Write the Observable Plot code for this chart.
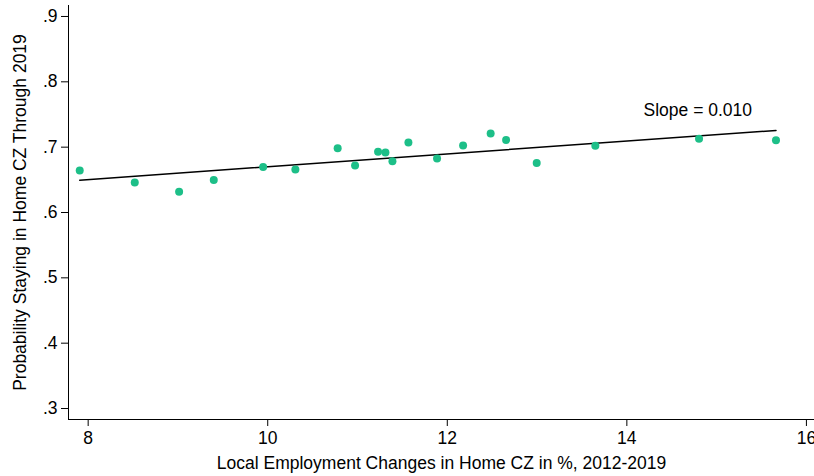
<!DOCTYPE html>
<html>
<head>
<meta charset="utf-8">
<script src="https://cdn.jsdelivr.net/npm/d3@7"></script>
<script src="https://cdn.jsdelivr.net/npm/@observablehq/plot@0.6"></script>
<style>
  html, body { margin: 0; padding: 0; background: #fff; }
  #chart svg { display: block; }
</style>
</head>
<body>
<div id="chart"></div>
<script>
// Binned scatter: local employment change (%) vs probability of staying in home CZ
const empChange = [7.906, 8.519, 9.013, 9.399, 9.949, 10.308, 10.779, 10.973, 11.229, 11.311,
                   11.389, 11.567, 11.886, 12.176, 12.483, 12.655, 12.996, 13.649, 14.804, 15.661];
const probStay  = [0.6643, 0.6459, 0.6316, 0.6499, 0.6698, 0.6658, 0.6984, 0.6720, 0.6928, 0.6919,
                   0.6785, 0.7072, 0.6827, 0.7026, 0.7209, 0.7111, 0.6759, 0.7020, 0.7127, 0.7107];

// Fitted line
const fitIntercept = 0.57185;
const fitSlope = 0.00982;

const xTicks = [8, 10, 12, 14, 16];
const yTicks = [0.3, 0.4, 0.5, 0.6, 0.7, 0.8, 0.9];
const xDomain = [7.781, 16.09];
const yDomain = [0.2832, 0.9168];

const xLabel = "Local Employment Changes in Home CZ in %, 2012-2019";
const yLabel = "Probability Staying in Home CZ Through 2019";
const slopeLabel = ["Slope = 0.010"];
const slopeLabelX = [14.79];
const slopeLabelY = [0.757];

const points = empChange.map((x, i) => ({x, y: probStay[i]}));
const xExt = d3.extent(empChange);
const fitLine = xExt.map(x => ({x, y: fitIntercept + fitSlope * x}));
const annot = slopeLabel.map((t, i) => ({t, x: slopeLabelX[i], y: slopeLabelY[i]}));

const FS = 17.5;
const green = "#1dbf88";

const chart = Plot.plot({
  width: 814,
  height: 476,
  marginLeft: 68,
  marginRight: 0,
  marginTop: 5,
  marginBottom: 57,
  style: {fontFamily: "'Liberation Sans', Helvetica, Arial, sans-serif", fontSize: FS + "px", color: "#000", background: "#fff"},
  x: {domain: xDomain},
  y: {domain: yDomain},
  marks: [
    Plot.ruleX([xDomain[0]], {stroke: "#000", strokeWidth: 1}),
    Plot.ruleY([yDomain[0]], {stroke: "#000", strokeWidth: 1}),
    Plot.axisX({ticks: xTicks, tickFormat: d => String(d), tickSize: 7, tickPadding: 5, fontSize: FS, label: null, stroke: "#000"}),
    Plot.axisY({ticks: yTicks, tickFormat: d => d3.format(".1f")(d).replace(/^0/, ""), tickSize: 7, tickPadding: 4, fontSize: FS, label: null, stroke: "#000"}),
    Plot.line(fitLine, {x: "x", y: "y", stroke: "#000", strokeWidth: 1.5}),
    Plot.dot(points, {x: "x", y: "y", r: 4, fill: green, stroke: "none"}),
    Plot.text(annot, {x: "x", y: "y", text: "t", fontSize: FS, fill: "#000", textAnchor: "middle", lineAnchor: "middle"}),
    Plot.text([xLabel], {text: d => d, frameAnchor: "bottom", textAnchor: "middle", lineAnchor: "top", dy: 37.5, fontSize: FS, fill: "#000"}),
    Plot.text([yLabel], {text: d => d, frameAnchor: "left", textAnchor: "middle", rotate: -90, lineAnchor: "top", dx: -55, fontSize: FS, fill: "#000"})
  ]
});
document.getElementById("chart").appendChild(chart);
</script>
</body>
</html>
